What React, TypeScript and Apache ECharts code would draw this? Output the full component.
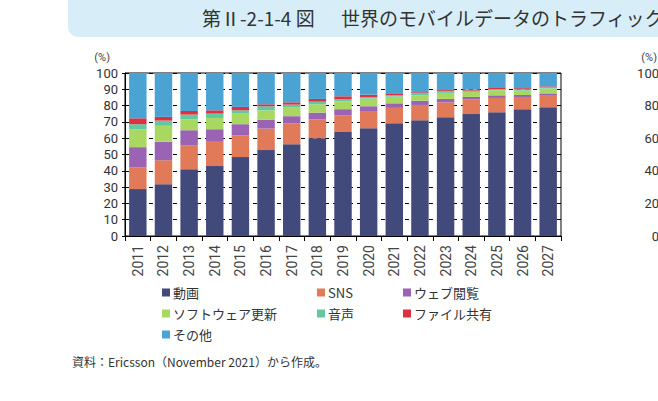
import { useEffect, useRef } from 'react';
import * as echarts from 'echarts';

// 年（横軸）
const years = [
  '2011', '2012', '2013', '2014', '2015', '2016', '2017', '2018', '2019',
  '2020', '2021', '2022', '2023', '2024', '2025', '2026', '2027',
];

// 用途別の構成比（%）
const video = [28.8, 31.8, 41.0, 42.9, 48.4, 52.7, 56.3, 60.0, 63.8, 66.1, 69.2, 71.0, 72.9, 74.8, 75.9, 77.8, 79.0];
const sns = [13.4, 14.7, 14.7, 14.9, 13.4, 13.2, 12.7, 11.6, 10.3, 10.6, 9.4, 9.4, 9.1, 8.9, 8.8, 7.5, 7.5];
const web = [12.3, 11.3, 9.2, 7.7, 6.8, 5.5, 4.5, 4.1, 3.7, 2.9, 2.8, 2.6, 2.1, 1.6, 1.6, 1.2, 1.0];
const software = [11.0, 9.8, 6.7, 6.9, 6.5, 5.7, 5.3, 5.1, 4.8, 4.7, 4.1, 3.4, 3.7, 3.1, 3.1, 2.7, 3.0];
const audio = [3.1, 3.2, 2.9, 2.7, 2.0, 2.5, 1.8, 1.6, 1.4, 1.0, 1.0, 1.2, 1.0, 0.8, 0.8, 0.9, 0.7];
const fileShare = [3.6, 2.3, 2.2, 2.0, 2.1, 1.2, 1.4, 1.7, 1.7, 1.4, 0.6, 0.6, 0.7, 0.6, 0.6, 0.6, 0.6];
const others = [27.8, 26.9, 23.3, 22.9, 20.8, 19.2, 18.0, 15.9, 14.3, 13.3, 12.9, 11.8, 10.5, 10.2, 9.2, 9.3, 8.2];

const seriesNames = ['動画', 'SNS', 'ウェブ閲覧', 'ソフトウェア更新', '音声', 'ファイル共有', 'その他'];
const seriesColors = ['#414a7a', '#e07a58', '#9a63b3', '#a9d862', '#63c8a0', '#e0303f', '#4aa3d3'];
const seriesValues = [video, sns, web, software, audio, fileShare, others];

const FONT = '"Noto Sans CJK JP", "Noto Sans", sans-serif';
const NUM_FONT = 'Roboto, "Noto Sans", sans-serif';

// 凡例の配置（左上の位置）
const legendLeft = [162, 317, 403, 162, 317, 403, 162];
const legendTop = [286, 286, 286, 307, 307, 307, 328];

const App: React.FC = () => {
  const chartRef = useRef<HTMLDivElement>(null);

  useEffect(() => {
    document.body.style.margin = '0';
    if (!chartRef.current) return;
    const chart = echarts.init(chartRef.current, undefined, { renderer: 'svg' });

    const option = {
      animation: false,
      textStyle: { fontFamily: FONT },
      graphic: [
        {
          type: 'rect',
          shape: { x: 68, y: -20, width: 640, height: 57, r: 10 },
          style: { fill: '#d7eef9' },
          z: -10,
        },
        {
          type: 'text',
          x: 202,
          y: 17,
          style: {
            text: '第Ⅱ-2-1-4 図',
            fill: '#333',
            font: `19px ${FONT}`,
            textVerticalAlign: 'middle',
          },
        },
        {
          type: 'text',
          x: 341,
          y: 17,
          style: {
            text: '世界のモバイルデータのトラフィック',
            fill: '#333',
            font: `19px ${FONT}`,
            textVerticalAlign: 'middle',
          },
        },
        {
          type: 'text',
          x: 110,
          y: 57,
          style: { text: '(%)', fill: '#444', font: `11px ${NUM_FONT}`, textAlign: 'right', textVerticalAlign: 'middle' },
        },
        {
          type: 'text',
          x: 657,
          y: 57,
          style: { text: '(%)', fill: '#444', font: `11px ${NUM_FONT}`, textAlign: 'right', textVerticalAlign: 'middle' },
        },
        {
          type: 'text',
          x: 72,
          y: 361,
          style: {
            text: '資料：Ericsson（November 2021）から作成。',
            fill: '#333',
            font: `12px ${FONT}`,
            textVerticalAlign: 'middle',
          },
        },
      ],
      legend: seriesNames.map((name, i) => ({
        data: [name],
        left: legendLeft[i],
        top: legendTop[i],
        padding: 0,
        icon: 'rect',
        itemWidth: 8,
        itemHeight: 8,
        textStyle: { fontSize: 13, color: '#333', fontFamily: FONT, padding: [0, 0, 0, -2] },
        selectedMode: false,
      })),
      grid: [
        {
          left: 125,
          top: 73,
          width: 436,
          height: 163,
          show: true,
          borderColor: '#000',
          borderWidth: 1,
          backgroundColor: 'transparent',
        },
        {
          left: 664,
          top: 73,
          width: 100,
          height: 163,
        },
      ],
      xAxis: [
        {
          type: 'category',
          data: years,
          gridIndex: 0,
          axisLine: { lineStyle: { color: '#000' } },
          axisTick: { show: true, length: 5, lineStyle: { color: '#000' } },
          axisLabel: { rotate: 90, fontSize: 14, color: '#444', margin: 9, fontFamily: NUM_FONT },
        },
        {
          type: 'category',
          data: years,
          gridIndex: 1,
          show: false,
        },
      ],
      yAxis: [
        {
          type: 'value',
          gridIndex: 0,
          min: 0,
          max: 100,
          interval: 10,
          axisLine: { show: true, lineStyle: { color: '#000' } },
          axisTick: { show: true, length: 3, lineStyle: { color: '#000' } },
          axisLabel: { fontSize: 13, color: '#333', margin: 7, fontFamily: NUM_FONT },
          splitLine: { show: true, lineStyle: { color: '#000', type: [4, 4], width: 1 } },
        },
        {
          type: 'value',
          gridIndex: 1,
          min: 0,
          max: 100,
          interval: 20,
          axisLine: { show: false },
          axisTick: { show: false },
          axisLabel: { fontSize: 13, color: '#333', margin: 5, fontFamily: NUM_FONT },
          splitLine: { show: false },
        },
      ],
      series: seriesNames.map((name, i) => ({
        name,
        type: 'bar',
        stack: 'total',
        xAxisIndex: 0,
        yAxisIndex: 0,
        barCategoryGap: '32%',
        itemStyle: { color: seriesColors[i] },
        data: seriesValues[i],
      })),
    };

    chart.setOption(option);
    return () => {
      chart.dispose();
    };
  }, []);

  return <div ref={chartRef} style={{ width: 658, height: 401 }} />;
};

export default App;
